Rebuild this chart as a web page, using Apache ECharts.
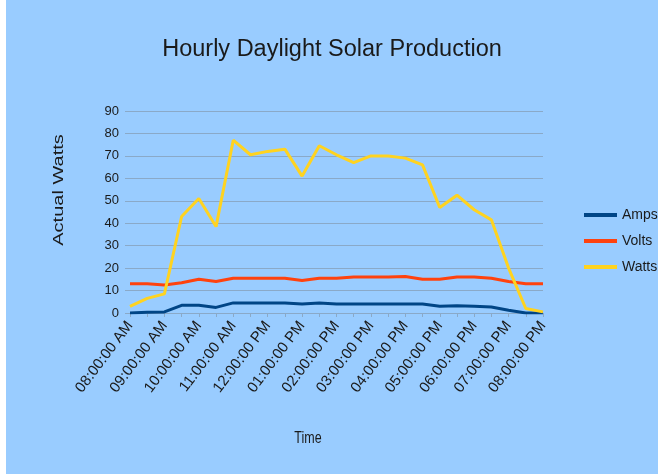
<!DOCTYPE html>
<html>
<head>
<meta charset="utf-8">
<script src="https://cdn.jsdelivr.net/npm/echarts@6/dist/echarts.min.js"></script>
<style>
  html, body { margin: 0; padding: 0; background: #ffffff; }
  #chart { position: absolute; left: 6px; top: 0; width: 652px; height: 474px; }
</style>
</head>
<body>
<div id="chart"></div>
<script>
// half-hour readings, 8 AM to 8 PM
var times = [
  '08:00:00 AM', '08:30:00 AM', '09:00:00 AM', '09:30:00 AM', '10:00:00 AM',
  '10:30:00 AM', '11:00:00 AM', '11:30:00 AM', '12:00:00 PM', '12:30:00 PM',
  '01:00:00 PM', '01:30:00 PM', '02:00:00 PM', '02:30:00 PM', '03:00:00 PM',
  '03:30:00 PM', '04:00:00 PM', '04:30:00 PM', '05:00:00 PM', '05:30:00 PM',
  '06:00:00 PM', '06:30:00 PM', '07:00:00 PM', '07:30:00 PM', '08:00:00 PM'
]
var amps = [0, 0.3, 0.5, 3.4, 3.5, 2.5, 4.5, 4.5, 4.5, 4.5, 4, 4.5, 4, 4, 4, 4, 4, 4, 3, 3.2, 3, 2.7, 1.2, 0, 0]
var volts = [13, 13, 12.5, 13.5, 15, 14, 15.5, 15.5, 15.5, 15.5, 14.5, 15.5, 15.5, 16, 16, 16, 16.3, 15, 15, 16, 16, 15.5, 14, 13, 13]
var watts = [3, 6.5, 8.5, 43, 51, 38.5, 77, 70.5, 72, 73, 61, 74.5, 70.5, 67, 70, 70, 69, 66, 47, 52.5, 46, 41.5, 20, 2, 0.5]
var yTicks = [0, 10, 20, 30, 40, 50, 60, 70, 80, 90]

var font = 'Liberation Sans'
var chart = echarts.init(document.getElementById('chart'))

chart.setOption({
  backgroundColor: '#99ccff',
  animation: false,
  color: ['#004586', '#ff420e', '#ffd320'],
  title: {
    text: 'Hourly Daylight Solar Production',
    left: 'center',
    top: 33,
    textStyle: {
      color: '#1a1a1a',
      fontFamily: font,
      fontWeight: 'normal',
      fontSize: 23.5
    }
  },
  grid: {
    left: 124,
    right: 115,
    top: 111,
    bottom: 161
  },
  legend: {
    orient: 'vertical',
    left: 573,
    top: 203,
    itemWidth: 33,
    itemHeight: 4,
    itemGap: 12,
    icon: 'rect',
    textStyle: {
      color: '#1a1a1a',
      fontFamily: font,
      fontSize: 14
    },
    data: ['Amps', 'Volts', 'Watts']
  },
  graphic: [
    {
      type: 'text',
      x: 53,
      y: 190,
      rotation: Math.PI / 2,
      scaleY: 0.75,
      style: {
        text: 'Actual Watts',
        fill: '#1a1a1a',
        font: '20px "' + font + '"',
        textAlign: 'center',
        textVerticalAlign: 'middle'
      }
    },
    {
      type: 'text',
      x: 302,
      y: 439,
      scaleX: 0.78,
      style: {
        text: 'Time',
        fill: '#1a1a1a',
        font: '16px "' + font + '"',
        textAlign: 'center',
        textVerticalAlign: 'middle'
      }
    }
  ],
  xAxis: {
    type: 'category',
    boundaryGap: false,
    data: times,
    axisLine: {
      lineStyle: { color: '#8aa9c8' }
    },
    axisTick: {
      show: true,
      interval: 0,
      length: 4,
      lineStyle: { color: '#8aa9c8' }
    },
    axisLabel: {
      interval: 1,
      rotate: 53,
      margin: 10,
      color: '#1a1a1a',
      fontFamily: font,
      fontSize: 15
    }
  },
  yAxis: {
    type: 'value',
    min: yTicks[0],
    max: yTicks[yTicks.length - 1],
    interval: 10,
    axisLine: { show: false },
    axisTick: {
      show: true,
      length: 5,
      lineStyle: { color: '#8aa9c8' }
    },
    axisLabel: {
      margin: 11,
      color: '#1a1a1a',
      fontFamily: font,
      fontSize: 13
    },
    splitLine: {
      lineStyle: { color: '#8aa9c8', width: 1 }
    }
  },
  series: [
    {
      name: 'Amps',
      type: 'line',
      data: amps,
      showSymbol: false,
      lineStyle: { width: 3 }
    },
    {
      name: 'Volts',
      type: 'line',
      data: volts,
      showSymbol: false,
      lineStyle: { width: 3 }
    },
    {
      name: 'Watts',
      type: 'line',
      data: watts,
      showSymbol: false,
      lineStyle: { width: 3 }
    }
  ]
})
</script>
</body>
</html>
